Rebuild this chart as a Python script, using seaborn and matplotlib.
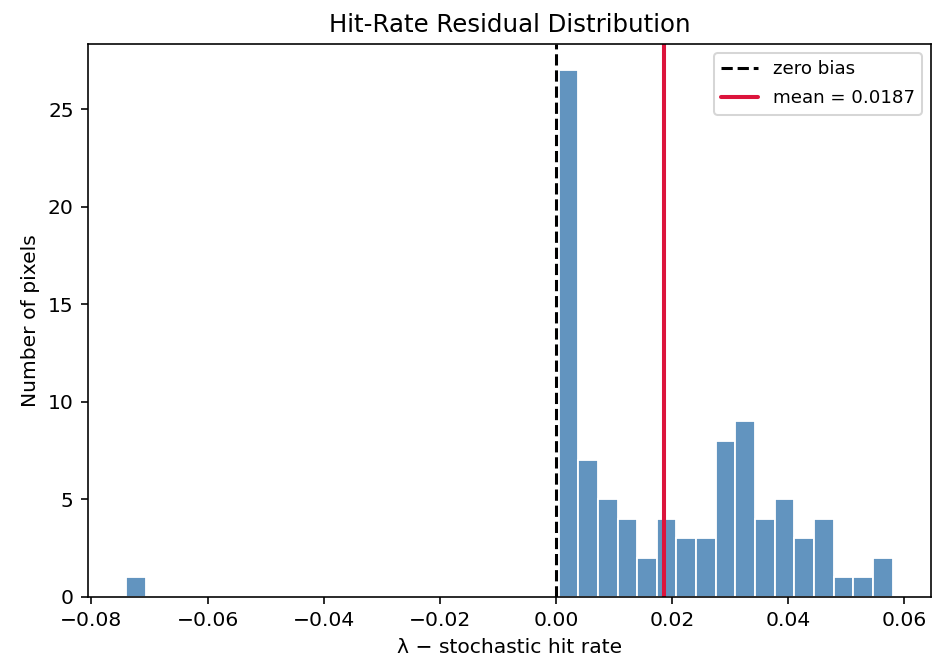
import numpy as np
import pandas as pd
import matplotlib
matplotlib.use("Agg")
import matplotlib.pyplot as plt
import seaborn as sns

# Histogram layout: 39 equal-width bins over the residual range
bin_lo = -0.0740
bin_hi = 0.0580
counts = [1] + [0] * 21 + [27, 7, 5, 4, 2, 4, 3, 3, 8, 9, 4, 5, 3, 4, 1, 1, 2]
mean_residual = 0.0187

edges = np.linspace(bin_lo, bin_hi, len(counts) + 1)
centers = 0.5 * (edges[:-1] + edges[1:])
df = pd.DataFrame({"residual": centers, "count": counts})

sns.set_style("ticks")
plt.rcParams["font.family"] = ["DejaVu Sans"]
plt.rcParams.update({
    "text.color": "black",
    "axes.labelcolor": "black",
    "xtick.color": "black",
    "ytick.color": "black",
    "axes.edgecolor": "black",
})

fig = plt.figure(figsize=(935 / 146, 661 / 146), dpi=146)
ax = fig.add_axes([0.094, 0.097, 0.9017, 0.8366])

sns.histplot(data=df, x="residual", weights="count", bins=len(counts),
             binrange=(bin_lo, bin_hi), ax=ax,
             color="steelblue", alpha=0.85, edgecolor="white", linewidth=0.9)

ax.axvline(0, color="black", linestyle="--", linewidth=1.5, label="zero bias")
ax.axvline(mean_residual, color="crimson", linewidth=2,
           label=f"mean = {mean_residual:.4f}")

ax.set_title("Hit-Rate Residual Distribution", fontsize=12, color="black")
ax.set_xlabel("λ − stochastic hit rate", fontsize=10)
ax.set_ylabel("Number of pixels", fontsize=10)
ax.tick_params(labelsize=10, direction="out", length=3.5, width=0.8,
               colors="black")
for s in ax.spines.values():
    s.set_visible(True)
    s.set_color("black")
    s.set_linewidth(0.8)
leg = ax.legend(fontsize=9, loc="upper right", labelspacing=0.6)
for t in leg.get_texts():
    t.set_color("black")

fig.savefig("out.png", dpi=146)
